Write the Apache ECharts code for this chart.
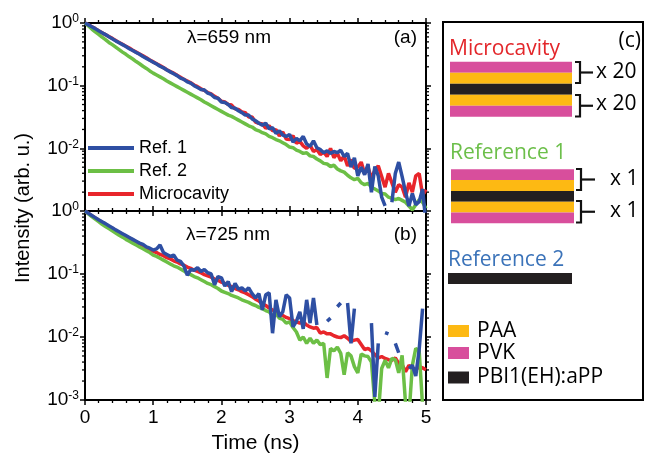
<!DOCTYPE html>
<html>
<head>
<meta charset="utf-8">
<script src="https://cdn.jsdelivr.net/npm/echarts/dist/echarts.min.js"></script>
<style>
  html, body { margin: 0; padding: 0; background: #fff; }
  #main { width: 646px; height: 457px; }
</style>
</head>
<body>
<div id="main"></div>
<script>
// time axis (ns), one sample every 0.05 ns
var time = [0,0.05,0.1,0.15,0.2,0.25,0.3,0.35,0.4,0.45,
  0.5,0.55,0.6,0.65,0.7,0.75,0.8,0.85,0.9,0.95,
  1,1.05,1.1,1.15,1.2,1.25,1.3,1.35,1.4,1.45,
  1.5,1.55,1.6,1.65,1.7,1.75,1.8,1.85,1.9,1.95,
  2,2.05,2.1,2.15,2.2,2.25,2.3,2.35,2.4,2.45,
  2.5,2.55,2.6,2.65,2.7,2.75,2.8,2.85,2.9,2.95,
  3,3.05,3.1,3.15,3.2,3.25,3.3,3.35,3.4,3.45,
  3.5,3.55,3.6,3.65,3.7,3.75,3.8,3.85,3.9,3.95,
  4,4.05,4.1,4.15,4.2,4.25,4.3,4.35,4.4,4.45,
  4.5,4.55,4.6,4.65,4.7,4.75,4.8,4.85,4.9,4.95,
  5];

// decay curves as log10(intensity); null = gap in trace
// (a) lambda = 659 nm
var microA = [0,-0.03,-0.06,-0.09,-0.125,-0.155,-0.185,-0.215,-0.245,-0.28,
  -0.31,-0.34,-0.37,-0.40,-0.435,-0.465,-0.495,-0.525,-0.555,-0.59,
  -0.62,-0.65,-0.68,-0.71,-0.745,-0.775,-0.80,-0.835,-0.865,-0.90,
  -0.925,-0.955,-0.99,-1.015,-1.05,-1.075,-1.11,-1.13,-1.17,-1.20,
  -1.25,-1.26,-1.30,-1.31,-1.37,-1.38,-1.42,-1.43,-1.50,-1.50,
  -1.58,-1.60,-1.61,-1.68,-1.64,-1.72,-1.70,-1.80,-1.74,-1.85,
  -1.86,-1.80,-1.92,-1.89,-1.96,-2.00,-1.95,-2.05,-2.02,-2.10,
  -2.06,-2.13,-2.00,-2.15,-2.08,-2.20,-2.12,-2.28,-2.18,-2.32,
  -2.30,-2.22,-2.40,-2.30,-2.48,-2.35,-2.28,-2.45,-2.62,-2.40,
  -2.55,-2.70,-2.58,-2.62,-2.78,-2.55,-2.70,-2.44,-2.40,-2.75,
  -2.66];
var ref1A = [0,-0.03,-0.06,-0.09,-0.125,-0.155,-0.185,-0.22,-0.25,-0.285,
  -0.315,-0.345,-0.375,-0.41,-0.44,-0.47,-0.50,-0.535,-0.565,-0.595,
  -0.625,-0.655,-0.69,-0.715,-0.75,-0.78,-0.81,-0.84,-0.88,-0.90,
  -0.94,-0.96,-1.00,-1.03,-1.06,-1.07,-1.12,-1.14,-1.19,-1.20,
  -1.26,-1.27,-1.30,-1.35,-1.36,-1.40,-1.43,-1.47,-1.47,-1.53,
  -1.56,-1.60,-1.63,-1.60,-1.69,-1.67,-1.76,-1.72,-1.79,-1.81,
  -1.78,-1.90,-1.84,-1.88,-1.81,-1.93,-1.97,-1.88,-1.99,-2.02,
  -2.07,-2.04,-2.08,-2.05,-2.07,-2.03,-2.13,-2.08,-2.30,-2.15,
  -2.44,-2.30,-2.42,-2.25,-2.70,-2.29,-2.44,-2.78,-2.92,null,
  -2.86,-2.40,-2.22,-2.45,-2.70,-2.92,-2.72,-2.90,-2.85,-2.65,
  -3.2];
var ref2A = [0,-0.048,-0.096,-0.14,-0.18,-0.225,-0.265,-0.31,-0.345,-0.385,
  -0.425,-0.465,-0.50,-0.54,-0.575,-0.615,-0.65,-0.69,-0.725,-0.765,
  -0.80,-0.83,-0.86,-0.89,-0.925,-0.955,-0.985,-1.015,-1.045,-1.075,
  -1.105,-1.135,-1.165,-1.195,-1.225,-1.26,-1.29,-1.32,-1.35,-1.38,
  -1.41,-1.44,-1.47,-1.49,-1.52,-1.55,-1.58,-1.61,-1.64,-1.66,
  -1.70,-1.72,-1.75,-1.77,-1.81,-1.83,-1.86,-1.88,-1.91,-1.94,
  -1.98,-1.99,-2.03,-2.05,-2.08,-2.07,-2.12,-2.13,-2.17,-2.20,
  -2.24,-2.25,-2.29,-2.27,-2.33,-2.36,-2.38,-2.43,-2.47,-2.50,
  -2.48,-2.55,-2.58,-2.56,-2.62,-2.65,-2.68,-2.72,-2.73,-2.78,
  -2.80,-2.82,-2.80,-2.83,-2.86,-2.92,-2.98,-2.90,-2.82,-2.86,
  -2.96];

// (b) lambda = 725 nm
var microB = [0,-0.04,-0.075,-0.11,-0.145,-0.18,-0.21,-0.245,-0.275,-0.31,
  -0.34,-0.37,-0.40,-0.43,-0.46,-0.49,-0.52,-0.55,-0.58,-0.61,
  -0.64,-0.66,-0.69,-0.71,-0.74,-0.76,-0.79,-0.81,-0.84,-0.86,
  -0.89,-0.91,-0.94,-0.96,-0.98,-1.01,-1.03,-1.05,-1.08,-1.10,
  -1.13,-1.15,-1.18,-1.20,-1.23,-1.25,-1.28,-1.30,-1.33,-1.36,
  -1.40,-1.43,-1.47,-1.50,-1.54,-1.57,-1.61,-1.64,-1.66,-1.69,
  -1.71,-1.74,-1.76,-1.78,-1.76,-1.81,-1.84,-1.86,-1.85,-1.94,
  -1.92,-1.95,-1.95,-1.98,-2.00,-2.01,-1.98,-2.02,-2.07,-2.05,
  -2.04,-2.12,-2.20,-2.18,-2.22,-2.28,-2.33,-2.31,-2.34,-2.36,
  -2.37,-2.33,-2.42,-2.44,-2.55,-2.45,-2.49,-2.52,-2.47,-2.49,
  -2.52];
var ref1B = [0,-0.035,-0.07,-0.105,-0.14,-0.17,-0.20,-0.235,-0.265,-0.30,
  -0.33,-0.36,-0.39,-0.42,-0.45,-0.48,-0.51,-0.53,-0.57,-0.59,
  -0.62,-0.60,-0.54,-0.66,-0.69,-0.72,-0.70,-0.78,-0.80,-0.87,
  -1.02,-0.93,-0.94,-0.90,-0.96,-0.93,-0.98,-1.00,-1.17,-1.04,
  -1.06,-1.19,-1.12,-1.28,-1.15,-1.24,-1.22,-1.27,-1.22,-1.31,
  -1.38,-1.31,-1.57,-1.33,-1.30,-1.94,-1.41,-1.68,-1.60,-1.33,
  -1.38,-1.84,-1.75,-1.60,-1.87,-1.41,-1.78,-1.38,-1.81,null,
  null,-1.75,-1.70,null,-1.52,-1.46,null,-1.46,-2.10,-1.55,
  null,null,null,null,-1.78,-2.95,-2.10,null,-1.93,-1.95,
  null,-2.10,-2.25,null,null,-2.50,-2.45,-2.62,-2.20,-1.55,
  null];
var ref2B = [0,-0.045,-0.09,-0.13,-0.17,-0.21,-0.245,-0.28,-0.315,-0.35,
  -0.385,-0.415,-0.45,-0.48,-0.51,-0.54,-0.57,-0.60,-0.63,-0.66,
  -0.70,-0.72,-0.75,-0.78,-0.81,-0.84,-0.87,-0.89,-0.92,-0.95,
  -0.99,-1.01,-1.04,-1.06,-1.09,-1.12,-1.15,-1.17,-1.20,-1.23,
  -1.27,-1.29,-1.31,-1.34,-1.36,-1.38,-1.41,-1.43,-1.45,-1.48,
  -1.50,-1.53,-1.55,-1.58,-1.60,-1.66,-1.63,-1.70,-1.72,-1.78,
  -1.76,-1.85,-1.92,-2.05,-2.00,-2.10,-2.02,-2.10,-2.05,-2.12,
  -2.10,-2.65,-2.18,-2.22,-2.16,-2.26,-2.60,-2.25,-2.30,-2.47,
  -2.57,-2.27,-2.30,-2.31,-2.40,-3.05,-3.25,-2.50,-2.37,-2.49,
  -2.34,-2.36,-2.57,-2.29,-3.05,-3.25,-2.45,-2.18,-2.22,-3.10,
  -3.30];

var legendNames = ['Ref. 1', 'Ref. 2', 'Microcavity'];
var minorTickVals = [0.002,0.003,0.004,0.005,0.006,0.007,0.008,0.009,
  0.02,0.03,0.04,0.05,0.06,0.07,0.08,0.09,
  0.2,0.3,0.4,0.5,0.6,0.7,0.8,0.9];

var RED = '#e8252b', GREEN = '#6cbf45', BLUE = '#2e4fa3';
var AX = 'Liberation Sans';
var CF = 'Open Sans';

var myChart = echarts.init(document.getElementById('main'));

function toData(exps) {
  return time.map(function(t, i) {
    return [t, exps[i] == null ? '-' : Math.pow(10, exps[i])];
  });
}

function lineSeries(name, color, exps, idx) {
  return {
    name: name, type: 'line', xAxisIndex: idx, yAxisIndex: idx,
    symbol: 'none', showSymbol: false, connectNulls: false, clip: true,
    lineStyle: { color: color, width: 3.5 },
    itemStyle: { color: color },
    data: toData(exps)
  };
}

// log minor ticks on left and right edges of a panel
function minorTicks(idx) {
  return {
    type: 'custom', xAxisIndex: idx, yAxisIndex: idx, silent: true,
    data: minorTickVals.map(function(v) { return [0, v]; }),
    renderItem: function(params, api) {
      var v = api.value(1);
      var l = api.coord([0, v]);
      var r = api.coord([5, v]);
      var st = { stroke: '#000', lineWidth: 1.3 };
      return {
        type: 'group',
        children: [
          { type: 'line', shape: { x1: l[0] - 3, y1: l[1], x2: l[0], y2: l[1] }, style: st },
          { type: 'line', shape: { x1: r[0], y1: r[1], x2: r[0] + 3, y2: r[1] }, style: st }
        ]
      };
    }
  };
}

function xAx(grid, pos, showLabel) {
  return {
    type: 'value', gridIndex: grid, position: pos, min: 0, max: 5, interval: 1,
    axisLine: { show: true, onZero: false, lineStyle: { color: '#000', width: 2 } },
    axisTick: { show: true, inside: false, length: 5, lineStyle: { color: '#000', width: 1.5 } },
    minorTick: { show: true, splitNumber: 5, length: 3, lineStyle: { color: '#000', width: 1.3 } },
    splitLine: { show: false },
    axisLabel: { show: showLabel, fontFamily: AX, fontSize: 19, color: '#000', margin: 8 }
  };
}

function yAx(grid, pos, showLabel, showMin) {
  return {
    type: 'log', logBase: 10, gridIndex: grid, position: pos, min: 0.001, max: 1,
    axisLine: { show: true, onZero: false, lineStyle: { color: '#000', width: 2 } },
    axisTick: { show: true, inside: false, length: 5, lineStyle: { color: '#000', width: 1.5 } },
    splitLine: { show: false },
    axisLabel: {
      show: showLabel, showMinLabel: showMin, margin: 6,
      formatter: function(v) {
        var e = Math.round(Math.log(v) / Math.LN10);
        return '{b|10}{s|' + e + '}';
      },
      rich: {
        b: { fontFamily: AX, fontSize: 19, color: '#000', lineHeight: 20 },
        s: { fontFamily: AX, fontSize: 12, color: '#000', verticalAlign: 'top', lineHeight: 12 }
      }
    }
  };
}

// panel (c) schematic
var layerColors = { PAA: '#fdb913', PVK: '#d84e9c', PBI: '#231f20' };
var stackMicro = ['PVK', 'PAA', 'PBI', 'PAA', 'PVK'];
var stackRef1 = ['PVK', 'PAA', 'PBI', 'PAA', 'PVK'];
var stackRef2 = ['PBI'];
var materialNames = [['PAA', 'PAA'], ['PVK', 'PVK'], ['PBI', 'PBI1(EH):aPP']];

function layers(x, y, w, h, list) {
  return list.map(function(k, i) {
    return { type: 'rect', shape: { x: x, y: y + i * h, width: w, height: h }, style: { fill: layerColors[k] } };
  });
}

function bracket(x, y1, y2, lineEnd) {
  var ym = (y1 + y2) / 2;
  return [
    { type: 'polyline', shape: { points: [[x, y1], [x + 5, y1], [x + 5, y2], [x, y2]] },
      style: { stroke: '#111', lineWidth: 2.2, fill: null } },
    { type: 'line', shape: { x1: x + 5, y1: ym, x2: lineEnd, y2: ym },
      style: { stroke: '#111', lineWidth: 2.2 } }
  ];
}

function txt(text, x, y, size, color, align, font) {
  return { type: 'text', x: x, y: y,
    style: { text: text, fill: color, font: size + 'px "' + (font || AX) + '"',
      textAlign: align || 'left', textVerticalAlign: 'middle' } };
}

var graphics = [];
graphics.push({ type: 'text', x: 23, y: 208, rotation: Math.PI / 2,
  style: { text: 'Intensity (arb. u.)', fill: '#000', font: '20px "' + AX + '"',
    textAlign: 'center', textVerticalAlign: 'middle' } });
graphics.push(txt('\u03bb=659 nm', 187, 38, 19, '#000'));
graphics.push(txt('(a)', 417, 38, 19, '#000', 'right'));
graphics.push(txt('\u03bb=725 nm', 186, 235, 19, '#000'));
graphics.push(txt('(b)', 417, 235, 19, '#000', 'right'));

graphics.push({ type: 'rect', shape: { x: 443, y: 22, width: 200, height: 378 },
  style: { stroke: '#000', lineWidth: 2, fill: null } });
graphics.push(txt('(c)', 641, 41, 21, '#000', 'right', CF));
graphics.push(txt('Microcavity', 449, 49, 21, '#e3262a', 'left', CF));
graphics = graphics.concat(layers(450, 61.7, 122, 11, stackMicro));
graphics = graphics.concat(bracket(575, 62, 83, 593));
graphics = graphics.concat(bracket(575, 95, 116.5, 593));
graphics.push(txt('x 20', 596, 72, 21, '#000', 'left', CF));
graphics.push(txt('x 20', 596, 104, 21, '#000', 'left', CF));

graphics.push(txt('Reference 1', 450, 153, 21, '#6cbf4a', 'left', CF));
graphics = graphics.concat(layers(451, 169.3, 123, 10.8, stackRef1));
graphics = graphics.concat(bracket(576, 169, 190, 595));
graphics = graphics.concat(bracket(576, 201, 222.5, 595));
graphics.push(txt('x 1', 610, 179, 21, '#000', 'left', CF));
graphics.push(txt('x 1', 610, 211, 21, '#000', 'left', CF));

graphics.push(txt('Reference 2', 448, 260, 21, '#3b73b9', 'left', CF));
graphics = graphics.concat(layers(448, 273, 124, 11, stackRef2));

materialNames.forEach(function(m, i) {
  var cy = [331, 353, 377.5][i];
  graphics.push({ type: 'rect', shape: { x: 448, y: cy - 6, width: 21, height: 12 }, style: { fill: layerColors[m[0]] } });
  graphics.push(txt(m[1], 477, cy, 21, '#000', 'left', CF));
});

var option = {
  animation: false,
  grid: [
    { left: 85, top: 23, width: 341, height: 188 },
    { left: 85, top: 211, width: 341, height: 189 }
  ],
  legend: {
    data: legendNames, orient: 'vertical', left: 88, top: 138, padding: 0,
    icon: 'rect', itemWidth: 46, itemHeight: 4, itemGap: 3, selectedMode: false,
    textStyle: { fontFamily: AX, fontSize: 18, color: '#000', lineHeight: 20 }
  },
  xAxis: [
    xAx(0, 'bottom', false),
    xAx(1, 'bottom', true),
    xAx(0, 'top', false),
    xAx(1, 'top', false)
  ],
  yAxis: [
    yAx(0, 'left', true, false),
    yAx(1, 'left', true, true),
    yAx(0, 'right', false, false),
    yAx(1, 'right', false, false)
  ],
  series: [
    lineSeries('Microcavity', RED, microA, 0),
    lineSeries('Ref. 2', GREEN, ref2A, 0),
    lineSeries('Ref. 1', BLUE, ref1A, 0),
    lineSeries('Microcavity', RED, microB, 1),
    lineSeries('Ref. 2', GREEN, ref2B, 1),
    lineSeries('Ref. 1', BLUE, ref1B, 1),
    minorTicks(0),
    minorTicks(1)
  ],
  graphic: graphics
};
option.xAxis[1].name = 'Time (ns)';
option.xAxis[1].nameLocation = 'middle';
option.xAxis[1].nameGap = 33;
option.xAxis[1].nameTextStyle = { fontFamily: AX, fontSize: 21, color: '#000' };

myChart.setOption(option);
</script>
</body>
</html>
